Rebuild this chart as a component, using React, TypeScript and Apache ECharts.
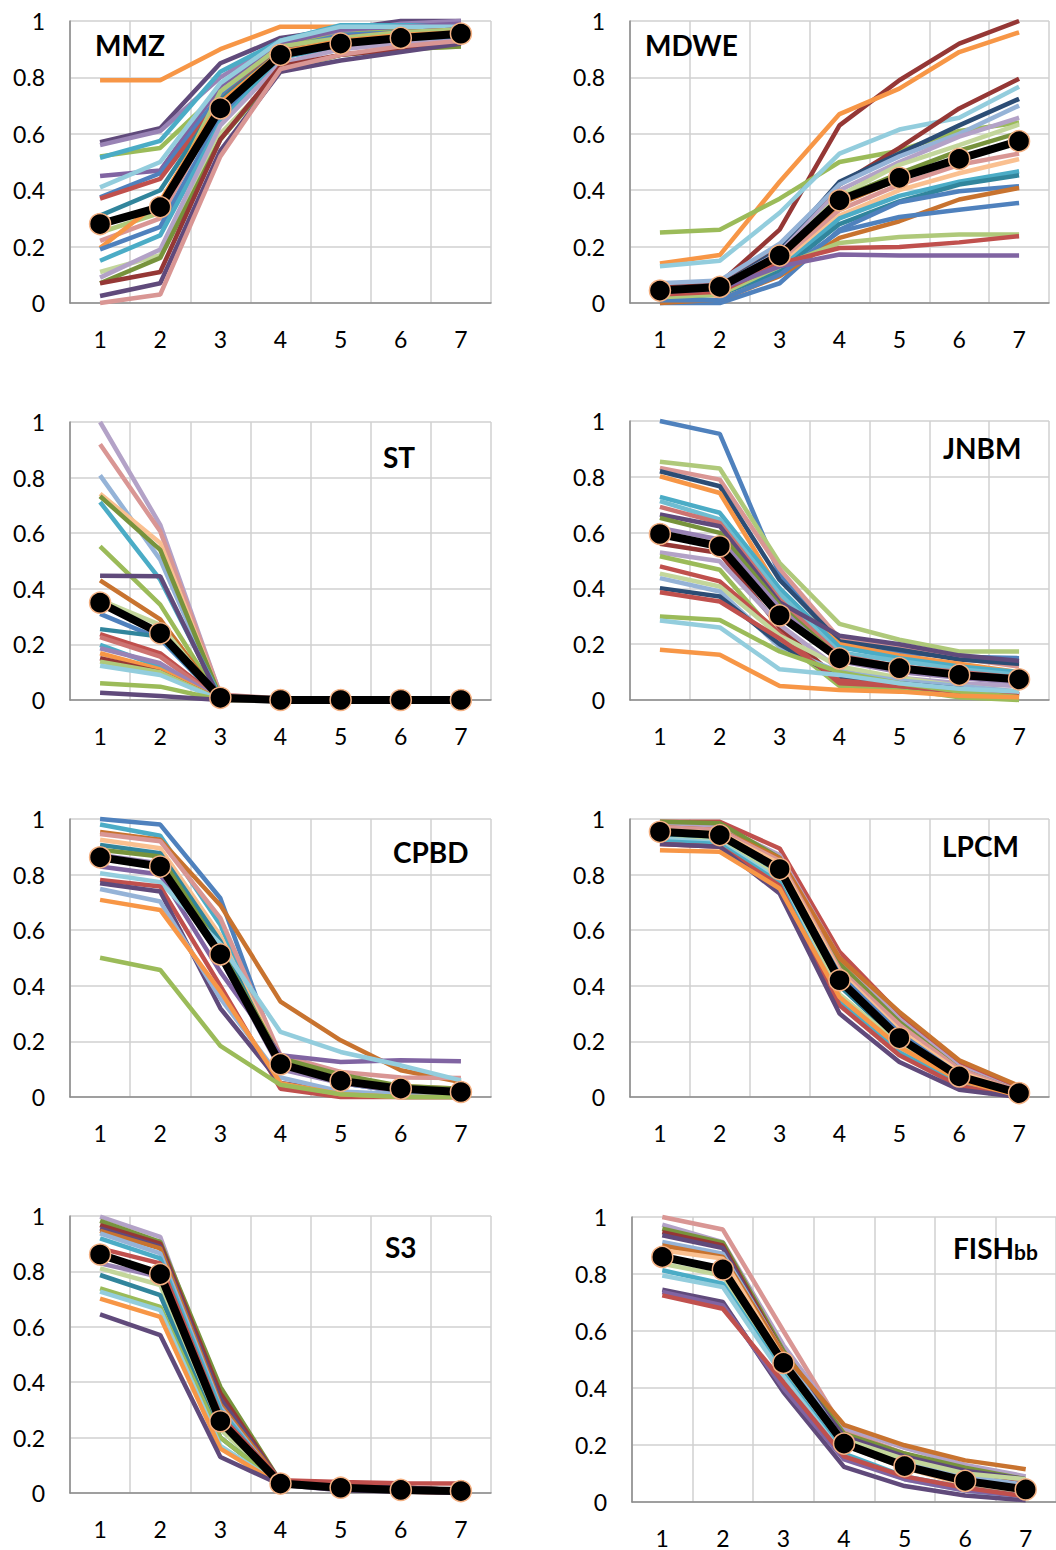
import React, { useEffect, useRef } from 'react';
import * as echarts from 'echarts';

const CATEGORIES = ['1', '2', '3', '4', '5', '6', '7'];

const C = {
  blue: '#4F81BD', red: '#C0504D', green: '#9BBB59', purple: '#8064A2', aqua: '#4BACC6', orange: '#F79646',
  dBlue: '#2C4D75', dRed: '#953735', dGreen: '#77933C', dPurple: '#604A7B', dAqua: '#31859C', dOrange: '#C8732F',
  lBlue: '#95B3D7', lRed: '#D99694', lGreen: '#C3D69B', lPurple: '#B3A2C7', lAqua: '#93CDDD', lOrange: '#FAC090',
  mPurple: '#9983B5', mGreen: '#AFC97A', mAqua: '#6FBDD1', mRed: '#CD7371',
};

// ---------- MMZ ----------
const MMZ_MEAN = [0.28, 0.34, 0.69, 0.88, 0.92, 0.94, 0.955];
const MMZ_LINES = [
  [0.79, 0.79, 0.90, 0.98, 0.98, 0.98, 0.99],
  [0.57, 0.62, 0.85, 0.94, 0.97, 1.0, 1.0],
  [0.56, 0.61, 0.80, 0.93, 0.96, 0.99, 1.0],
  [0.52, 0.55, 0.75, 0.91, 0.95, 0.97, 0.98],
  [0.515, 0.575, 0.82, 0.93, 0.985, 0.985, 0.985],
  [0.45, 0.47, 0.77, 0.92, 0.97, 0.98, 0.99],
  [0.41, 0.50, 0.78, 0.93, 0.98, 0.98, 0.98],
  [0.375, 0.46, 0.74, 0.90, 0.95, 0.96, 0.97],
  [0.37, 0.44, 0.72, 0.90, 0.94, 0.96, 0.97],
  [0.31, 0.40, 0.72, 0.89, 0.93, 0.95, 0.96],
  [0.25, 0.32, 0.75, 0.91, 0.94, 0.96, 0.97],
  [0.22, 0.30, 0.70, 0.88, 0.92, 0.94, 0.95],
  [0.195, 0.36, 0.71, 0.89, 0.93, 0.95, 0.96],
  [0.19, 0.27, 0.66, 0.87, 0.91, 0.93, 0.94],
  [0.15, 0.24, 0.64, 0.87, 0.91, 0.93, 0.95],
  [0.11, 0.17, 0.60, 0.82, 0.88, 0.90, 0.91],
  [0.09, 0.19, 0.63, 0.85, 0.90, 0.92, 0.93],
  [0.07, 0.16, 0.58, 0.83, 0.88, 0.90, 0.91],
  [0.07, 0.11, 0.58, 0.84, 0.88, 0.90, 0.92],
  [0.025, 0.07, 0.54, 0.82, 0.86, 0.89, 0.92],
  [0.0, 0.03, 0.52, 0.83, 0.88, 0.91, 0.93],
];
const MMZ_COLORS = [C.orange, C.dPurple, C.mPurple, C.green, C.aqua, C.purple, C.lAqua, C.blue, C.red, C.dAqua,
  C.mGreen, C.lRed, C.orange, C.blue, C.aqua, C.lGreen, C.lPurple, C.dGreen, C.dRed, C.dPurple, C.lRed];

// ---------- MDWE ----------
const MDWE_MEAN = [0.044, 0.057, 0.168, 0.364, 0.444, 0.511, 0.574];
const MDWE_LINES = [
  [0.06, 0.07, 0.26, 0.63, 0.79, 0.92, 1.0],
  [0.14, 0.17, 0.43, 0.67, 0.76, 0.89, 0.96],
  [0.25, 0.26, 0.37, 0.50, 0.54, 0.61, 0.64],
  [0.13, 0.15, 0.32, 0.53, 0.615, 0.657, 0.767],
  [0.06, 0.07, 0.20, 0.42, 0.55, 0.69, 0.795],
  [0.05, 0.06, 0.19, 0.43, 0.53, 0.63, 0.724],
  [0.07, 0.08, 0.21, 0.42, 0.52, 0.60, 0.70],
  [0.05, 0.06, 0.18, 0.40, 0.50, 0.59, 0.657],
  [0.04, 0.05, 0.17, 0.38, 0.49, 0.56, 0.633],
  [0.04, 0.05, 0.16, 0.37, 0.46, 0.54, 0.604],
  [0.03, 0.04, 0.15, 0.35, 0.44, 0.51, 0.58],
  [0.03, 0.04, 0.14, 0.33, 0.42, 0.49, 0.53],
  [0.02, 0.03, 0.13, 0.31, 0.40, 0.46, 0.51],
  [0.02, 0.03, 0.12, 0.30, 0.38, 0.43, 0.467],
  [0.02, 0.03, 0.11, 0.28, 0.36, 0.42, 0.453],
  [0.0, 0.0, 0.07, 0.26, 0.357, 0.396, 0.414],
  [0.0, 0.012, 0.095, 0.231, 0.29, 0.367, 0.408],
  [0.01, 0.01, 0.10, 0.254, 0.305, 0.331, 0.355],
  [0.02, 0.03, 0.13, 0.213, 0.234, 0.243, 0.243],
  [0.03, 0.04, 0.14, 0.195, 0.199, 0.215, 0.237],
  [0.04, 0.05, 0.13, 0.172, 0.168, 0.168, 0.168],
];
const MDWE_COLORS = [C.dRed, C.orange, C.green, C.lAqua, C.dRed, C.dBlue, C.lBlue, C.lPurple, C.lGreen, C.dGreen,
  C.dOrange, C.lRed, C.lOrange, C.aqua, C.dAqua, C.blue, C.dOrange, C.blue, C.mGreen, C.red, C.purple];

// ---------- ST ----------
const ST_MEAN = [0.35, 0.24, 0.008, 0, 0, 0, 0];
const ST_LINES = [
  [1.0, 0.63, 0.02, 0, 0, 0, 0],
  [0.92, 0.607, 0.02, 0.005, 0, 0, 0],
  [0.808, 0.505, 0.01, 0, 0, 0, 0],
  [0.742, 0.565, 0.01, 0, 0, 0, 0],
  [0.733, 0.54, 0.01, 0, 0, 0, 0],
  [0.712, 0.433, 0.01, 0, 0, 0, 0],
  [0.553, 0.343, 0, 0, 0, 0, 0],
  [0.447, 0.445, 0, 0, 0, 0, 0],
  [0.43, 0.29, 0, 0, 0, 0, 0],
  [0.36, 0.27, 0, 0, 0, 0, 0],
  [0.31, 0.22, 0, 0, 0, 0, 0],
  [0.255, 0.228, 0, 0, 0, 0, 0],
  [0.237, 0.168, 0, 0, 0, 0, 0],
  [0.226, 0.156, 0, 0, 0, 0, 0],
  [0.198, 0.12, 0, 0, 0, 0, 0],
  [0.186, 0.132, 0, 0, 0, 0, 0],
  [0.168, 0.11, 0, 0, 0, 0, 0],
  [0.15, 0.10, 0, 0, 0, 0, 0],
  [0.138, 0.10, 0, 0, 0, 0, 0],
  [0.123, 0.09, 0, 0, 0, 0, 0],
  [0.06, 0.048, 0, 0, 0, 0, 0],
  [0.026, 0.014, 0, 0, 0, 0, 0],
];
const ST_COLORS = [C.lPurple, C.lRed, C.lBlue, C.lOrange, C.dGreen, C.aqua, C.green, C.dPurple, C.dOrange, C.lGreen,
  C.blue, C.dAqua, C.red, C.mRed, C.aqua, C.mPurple, C.orange, C.dRed, C.mGreen, C.lAqua, C.green, C.dPurple];

// ---------- JNBM ----------
const JNBM_MEAN = [0.595, 0.551, 0.303, 0.149, 0.114, 0.09, 0.074];
const JNBM_LINES = [
  [1.0, 0.954, 0.45, 0.20, 0.17, 0.155, 0.15],
  [0.854, 0.83, 0.491, 0.273, 0.216, 0.174, 0.174],
  [0.832, 0.79, 0.47, 0.22, 0.19, 0.15, 0.12],
  [0.82, 0.766, 0.43, 0.21, 0.18, 0.145, 0.13],
  [0.802, 0.742, 0.39, 0.20, 0.16, 0.13, 0.10],
  [0.728, 0.671, 0.40, 0.19, 0.15, 0.12, 0.10],
  [0.713, 0.647, 0.38, 0.17, 0.14, 0.11, 0.09],
  [0.692, 0.635, 0.36, 0.16, 0.12, 0.10, 0.08],
  [0.665, 0.623, 0.35, 0.23, 0.20, 0.16, 0.14],
  [0.653, 0.599, 0.34, 0.15, 0.11, 0.09, 0.07],
  [0.617, 0.575, 0.33, 0.14, 0.10, 0.08, 0.06],
  [0.56, 0.527, 0.26, 0.07, 0.05, 0.03, 0.02],
  [0.529, 0.497, 0.27, 0.11, 0.08, 0.06, 0.05],
  [0.515, 0.467, 0.22, 0.05, 0.04, 0.01, 0.0],
  [0.479, 0.425, 0.24, 0.06, 0.05, 0.03, 0.02],
  [0.453, 0.407, 0.23, 0.12, 0.08, 0.05, 0.03],
  [0.437, 0.389, 0.19, 0.10, 0.07, 0.05, 0.03],
  [0.401, 0.371, 0.20, 0.08, 0.06, 0.04, 0.02],
  [0.386, 0.353, 0.22, 0.07, 0.05, 0.03, 0.02],
  [0.299, 0.287, 0.174, 0.10, 0.06, 0.03, 0.01],
  [0.285, 0.26, 0.11, 0.09, 0.06, 0.04, 0.03],
  [0.18, 0.162, 0.05, 0.036, 0.03, 0.015, 0.01],
];
const JNBM_COLORS = [C.blue, C.mGreen, C.lRed, C.dBlue, C.orange, C.aqua, C.mAqua, C.mRed, C.dPurple, C.dGreen,
  C.mPurple, C.dRed, C.lPurple, C.green, C.red, C.lGreen, C.lBlue, C.dBlue, C.red, C.green, C.lAqua, C.orange];

// ---------- CPBD ----------
const CPBD_MEAN = [0.862, 0.829, 0.513, 0.118, 0.058, 0.03, 0.018];
const CPBD_LINES = [
  [1.0, 0.98, 0.715, 0.12, 0.05, 0.02, 0.01],
  [0.98, 0.94, 0.62, 0.11, 0.05, 0.02, 0.01],
  [0.953, 0.925, 0.69, 0.343, 0.204, 0.096, 0.054],
  [0.946, 0.92, 0.643, 0.15, 0.09, 0.07, 0.068],
  [0.925, 0.895, 0.58, 0.13, 0.07, 0.04, 0.03],
  [0.907, 0.877, 0.56, 0.12, 0.06, 0.03, 0.02],
  [0.889, 0.865, 0.53, 0.14, 0.08, 0.04, 0.03],
  [0.871, 0.84, 0.50, 0.10, 0.05, 0.02, 0.01],
  [0.829, 0.80, 0.45, 0.15, 0.126, 0.132, 0.129],
  [0.805, 0.773, 0.55, 0.234, 0.162, 0.114, 0.06],
  [0.781, 0.757, 0.40, 0.03, 0.0, 0.0, 0.0],
  [0.769, 0.739, 0.319, 0.05, 0.02, 0.0, 0.0],
  [0.748, 0.703, 0.355, 0.07, 0.02, 0.01, 0.0],
  [0.709, 0.673, 0.38, 0.05, 0.01, 0.0, 0.0],
  [0.501, 0.457, 0.184, 0.044, 0.01, 0.0, 0.0],
];
const CPBD_COLORS = [C.blue, C.aqua, C.dOrange, C.lRed, C.lOrange, C.dAqua, C.dGreen, C.mPurple, C.purple, C.lAqua,
  C.red, C.dPurple, C.lBlue, C.orange, C.green];

// ---------- LPCM ----------
const LPCM_MEAN = [0.954, 0.942, 0.82, 0.42, 0.212, 0.074, 0.014];
const LPCM_LINES = [
  [0.99, 0.99, 0.894, 0.522, 0.30, 0.12, 0.03],
  [0.98, 0.975, 0.87, 0.50, 0.28, 0.11, 0.02],
  [0.99, 0.985, 0.86, 0.48, 0.27, 0.10, 0.02],
  [0.97, 0.96, 0.86, 0.50, 0.306, 0.132, 0.04],
  [0.97, 0.96, 0.85, 0.46, 0.26, 0.10, 0.02],
  [0.96, 0.95, 0.84, 0.45, 0.24, 0.09, 0.015],
  [0.95, 0.94, 0.82, 0.44, 0.23, 0.08, 0.01],
  [0.94, 0.93, 0.80, 0.40, 0.20, 0.07, 0.01],
  [0.93, 0.92, 0.79, 0.37, 0.19, 0.06, 0.005],
  [0.93, 0.915, 0.78, 0.35, 0.17, 0.05, 0.0],
  [0.92, 0.91, 0.77, 0.34, 0.16, 0.05, 0.0],
  [0.91, 0.90, 0.76, 0.33, 0.15, 0.04, 0.0],
  [0.91, 0.90, 0.732, 0.30, 0.126, 0.026, 0.0],
  [0.888, 0.882, 0.75, 0.36, 0.18, 0.06, 0.005],
];
const LPCM_COLORS = [C.red, C.lPurple, C.dGreen, C.dOrange, C.lRed, C.lOrange, C.blue, C.dAqua, C.lGreen, C.lAqua,
  C.aqua, C.red, C.dPurple, C.orange];

// ---------- S3 ----------
const S3_MEAN = [0.861, 0.79, 0.259, 0.034, 0.019, 0.011, 0.007];
const S3_LINES = [
  [0.998, 0.925, 0.33, 0.04, 0.03, 0.02, 0.01],
  [0.982, 0.907, 0.383, 0.04, 0.03, 0.02, 0.01],
  [0.967, 0.90, 0.36, 0.04, 0.03, 0.02, 0.01],
  [0.955, 0.889, 0.34, 0.04, 0.02, 0.02, 0.01],
  [0.946, 0.883, 0.32, 0.04, 0.02, 0.01, 0.01],
  [0.937, 0.865, 0.31, 0.03, 0.02, 0.01, 0.01],
  [0.919, 0.847, 0.30, 0.03, 0.02, 0.01, 0.005],
  [0.883, 0.829, 0.28, 0.046, 0.04, 0.035, 0.034],
  [0.829, 0.78, 0.25, 0.03, 0.02, 0.01, 0.0],
  [0.811, 0.751, 0.23, 0.03, 0.02, 0.01, 0.0],
  [0.787, 0.714, 0.20, 0.03, 0.02, 0.01, 0.0],
  [0.739, 0.672, 0.20, 0.03, 0.015, 0.01, 0.0],
  [0.727, 0.66, 0.17, 0.03, 0.015, 0.01, 0.0],
  [0.702, 0.636, 0.16, 0.03, 0.015, 0.005, 0.0],
  [0.645, 0.57, 0.13, 0.03, 0.01, 0.005, 0.0],
];
const S3_COLORS = [C.lPurple, C.dGreen, C.dRed, C.dPurple, C.dOrange, C.lBlue, C.aqua, C.red, C.mPurple, C.lGreen,
  C.dAqua, C.green, C.lAqua, C.orange, C.dPurple];

// ---------- FISHbb ----------
const FISH_MEAN = [0.86, 0.816, 0.488, 0.205, 0.126, 0.074, 0.044];
const FISH_LINES = [
  [1.0, 0.956, 0.60, 0.25, 0.17, 0.11, 0.07],
  [0.973, 0.912, 0.55, 0.26, 0.19, 0.13, 0.09],
  [0.959, 0.91, 0.53, 0.24, 0.17, 0.12, 0.08],
  [0.947, 0.90, 0.52, 0.22, 0.15, 0.10, 0.06],
  [0.936, 0.891, 0.51, 0.23, 0.16, 0.11, 0.08],
  [0.912, 0.871, 0.52, 0.21, 0.14, 0.09, 0.06],
  [0.90, 0.86, 0.52, 0.271, 0.199, 0.146, 0.115],
  [0.883, 0.854, 0.50, 0.20, 0.12, 0.06, 0.03],
  [0.836, 0.795, 0.46, 0.22, 0.15, 0.10, 0.08],
  [0.813, 0.766, 0.45, 0.17, 0.09, 0.05, 0.02],
  [0.795, 0.754, 0.44, 0.16, 0.08, 0.04, 0.01],
  [0.745, 0.702, 0.386, 0.123, 0.056, 0.023, 0.006],
  [0.737, 0.69, 0.40, 0.15, 0.08, 0.04, 0.02],
  [0.725, 0.678, 0.42, 0.16, 0.09, 0.05, 0.02],
];
const FISH_COLORS = [C.lRed, C.lPurple, C.dGreen, C.dRed, C.dPurple, C.lBlue, C.dOrange, C.lOrange, C.lGreen, C.aqua,
  C.lAqua, C.dPurple, C.purple, C.red];

const PANELS = [
  { title: 'MMZ', lines: MMZ_LINES, colors: MMZ_COLORS, mean: MMZ_MEAN },
  { title: 'MDWE', lines: MDWE_LINES, colors: MDWE_COLORS, mean: MDWE_MEAN },
  { title: 'ST', lines: ST_LINES, colors: ST_COLORS, mean: ST_MEAN },
  { title: 'JNBM', lines: JNBM_LINES, colors: JNBM_COLORS, mean: JNBM_MEAN },
  { title: 'CPBD', lines: CPBD_LINES, colors: CPBD_COLORS, mean: CPBD_MEAN },
  { title: 'LPCM', lines: LPCM_LINES, colors: LPCM_COLORS, mean: LPCM_MEAN },
  { title: 'S3', lines: S3_LINES, colors: S3_COLORS, mean: S3_MEAN },
  { title: 'FISHbb', lines: FISH_LINES, colors: FISH_COLORS, mean: FISH_MEAN },
];

const LAYOUT = [
  { left: 70, top: 21, width: 421, height: 282, tx: 95, ty: 45 },
  { left: 630, top: 21, width: 419, height: 282, tx: 645, ty: 45 },
  { left: 70, top: 422, width: 421, height: 278, tx: 383, ty: 457 },
  { left: 630, top: 421, width: 419, height: 279, tx: 943, ty: 448 },
  { left: 70, top: 819, width: 421, height: 278, tx: 393, ty: 852 },
  { left: 630, top: 819, width: 419, height: 278, tx: 942, ty: 846 },
  { left: 70, top: 1216, width: 421, height: 277, tx: 385, ty: 1247 },
  { left: 632, top: 1217, width: 430, height: 285, tx: 953, ty: 1248 },
];

const FONT = 'Lato, "Open Sans", sans-serif';
const GRID_COLOR = '#D0D0D0';
const AXIS_COLOR = '#8A8A8A';

export default function App() {
  const ref = useRef<HTMLDivElement>(null);
  useEffect(() => {
    if (!ref.current) return;
    const chart = echarts.init(ref.current, undefined, { renderer: 'svg' });
    const grid = LAYOUT.map((g) => ({ left: g.left, top: g.top, width: g.width, height: g.height }));
    const xAxis = LAYOUT.map((_, i) => ({
      type: 'category', gridIndex: i, data: CATEGORIES, boundaryGap: true,
      axisLine: { show: true, lineStyle: { color: AXIS_COLOR, width: 1.5 } },
      axisTick: { show: false },
      axisLabel: { fontFamily: FONT, fontSize: 23, color: '#000', margin: 24 },
      splitLine: { show: true, lineStyle: { color: GRID_COLOR, width: 1.5 } },
    }));
    const yAxis = LAYOUT.map((_, i) => ({
      type: 'value', gridIndex: i, min: 0, max: 1, interval: 0.2,
      axisLine: { show: true, lineStyle: { color: AXIS_COLOR, width: 1.5 } },
      axisTick: { show: false },
      axisLabel: { fontFamily: FONT, fontSize: 23, color: '#000', margin: 25 },
      splitLine: { show: true, lineStyle: { color: GRID_COLOR, width: 1.5 } },
    }));
    const series: any[] = [];
    PANELS.forEach((p, i) => {
      p.lines.forEach((d, j) => {
        const col = p.colors[j % p.colors.length];
        series.push({
          type: 'line', xAxisIndex: i, yAxisIndex: i, data: d, symbol: 'none', clip: false, silent: true,
          lineStyle: { width: 4.5, color: col }, itemStyle: { color: col }, z: 2,
          emphasis: { disabled: true },
        });
      });
      series.push({
        type: 'line', xAxisIndex: i, yAxisIndex: i, data: p.mean, symbol: 'circle', symbolSize: 21,
        clip: false, silent: true, z: 5,
        lineStyle: { width: 8, color: '#000' },
        itemStyle: { color: '#000', borderColor: '#F4B183', borderWidth: 1.5 },
        emphasis: { disabled: true },
      });
    });
    const graphic = PANELS.map((p, i) => {
      const L = LAYOUT[i];
      if (p.title === 'FISHbb') {
        return {
          type: 'text', x: L.tx, y: L.ty, z: 10,
          style: {
            text: '{a|FISH}{b|bb}', verticalAlign: 'middle', align: 'left',
            rich: {
              a: { fontFamily: FONT, fontSize: 28, fontWeight: 'bold', fill: '#000', color: '#000' },
              b: { fontFamily: FONT, fontSize: 21, fontWeight: 'bold', fill: '#000', color: '#000', padding: [6, 0, 0, 0] },
            },
          },
        };
      }
      return {
        type: 'text', x: L.tx, y: L.ty, z: 10,
        style: {
          text: p.title, fill: '#000', verticalAlign: 'middle', align: 'left',
          font: `bold 28px ${FONT}`,
        },
      };
    });
    chart.setOption({
      animation: false,
      backgroundColor: '#fff',
      grid, xAxis, yAxis, series, graphic,
    } as any);
    return () => chart.dispose();
  }, []);
  return <div ref={ref} style={{ position: 'absolute', left: 0, top: 0, width: 1056, height: 1550 }} />;
}
